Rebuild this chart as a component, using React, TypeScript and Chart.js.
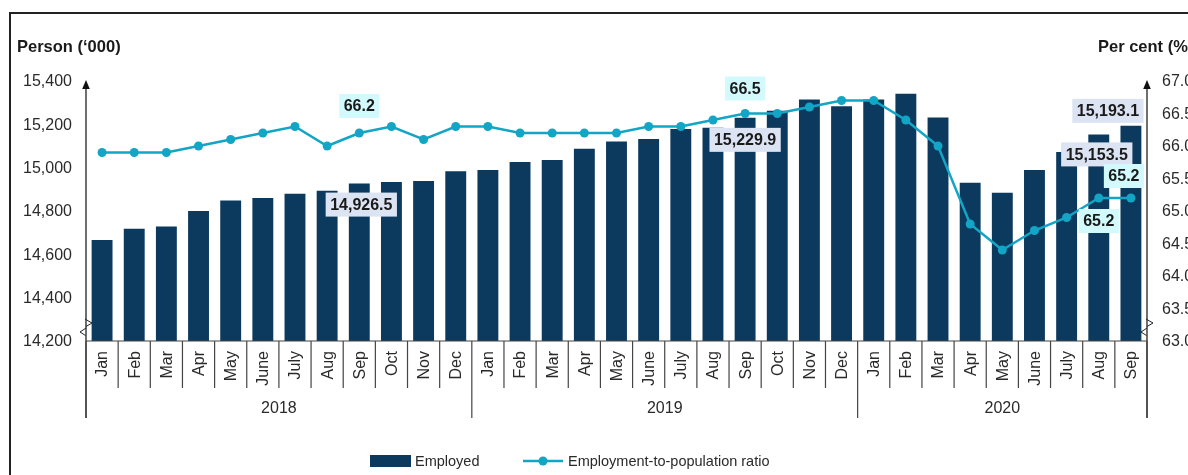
import React, { useEffect, useRef } from "react";
import { Chart, registerables } from "chart.js";

Chart.register(...registerables);

const months = [
  "Jan", "Feb", "Mar", "Apr", "May", "June", "July", "Aug", "Sep", "Oct", "Nov", "Dec",
  "Jan", "Feb", "Mar", "Apr", "May", "June", "July", "Aug", "Sep", "Oct", "Nov", "Dec",
  "Jan", "Feb", "Mar", "Apr", "May", "June", "July", "Aug", "Sep",
];
const yearLabels = ["2018", "2019", "2020"];
const yearCounts = [12, 12, 9];

const employed = [
  14666, 14718, 14729, 14800, 14849, 14860, 14880, 14894, 14926.5, 14934, 14938, 14984,
  14989, 15026, 15035, 15087, 15121, 15132, 15178, 15184, 15229.9, 15263, 15315, 15284,
  15315, 15341, 15231, 14930, 14884, 14989, 15072, 15153.5, 15193.1,
];
const ratio = [
  65.9, 65.9, 65.9, 66.0, 66.1, 66.2, 66.3, 66.0, 66.2, 66.3, 66.1, 66.3,
  66.3, 66.2, 66.2, 66.2, 66.2, 66.3, 66.3, 66.4, 66.5, 66.5, 66.6, 66.7,
  66.7, 66.4, 66.0, 64.8, 64.4, 64.7, 64.9, 65.2, 65.2,
];
const leftTicks = [14200, 14400, 14600, 14800, 15000, 15200, 15400];
const rightTicks = [63.0, 63.5, 64.0, 64.5, 65.0, 65.5, 66.0, 66.5, 67.0];

// labelled points: which series, which month index
const annotSeries = ["ratio", "employed", "ratio", "employed", "employed", "employed", "ratio", "ratio"];
const annotIndex = [8, 8, 20, 20, 32, 31, 32, 31];
// style offsets (pixels) for the label boxes
const annotDx = [0, 2, 0, 0, -23, -2, -7, 0];
const annotDy = [-27, 21, -25, 22, -15, 20, -22, 23];

const BAR_COLOR = "#0b3a5e";
const LINE_COLOR = "#12a5c5";
const TEXT = "#2a2a2a";
const FONT = "'Liberation Sans', Arial, sans-serif";

const overlay = {
  id: "overlay",
  afterDraw(chart: any) {
    const ctx = chart.ctx as CanvasRenderingContext2D;
    const area = chart.chartArea;
    const x = chart.scales.x;
    const y = chart.scales.y;
    const y1 = chart.scales.y1;
    const L = area.left;
    const R = area.right;
    const B = area.bottom;
    const T = area.top;
    const step = x.getPixelForValue(1) - x.getPixelForValue(0);
    ctx.save();

    // axes
    ctx.strokeStyle = "#222";
    ctx.lineWidth = 1.3;
    ctx.beginPath();
    ctx.moveTo(L, T + 6);
    ctx.lineTo(L, 418);
    ctx.moveTo(R, T + 6);
    ctx.lineTo(R, 418);
    ctx.stroke();
    ctx.fillStyle = "#111";
    for (const ax of [L, R]) {
      ctx.beginPath();
      ctx.moveTo(ax, T - 1);
      ctx.lineTo(ax - 3.8, T + 8);
      ctx.lineTo(ax + 3.8, T + 8);
      ctx.closePath();
      ctx.fill();
    }
    // x baseline
    ctx.strokeStyle = "#444";
    ctx.lineWidth = 1.2;
    ctx.beginPath();
    ctx.moveTo(L, B);
    ctx.lineTo(R, B);
    ctx.stroke();

    // break marks
    ctx.strokeStyle = "#222";
    ctx.lineWidth = 1;
    for (const ax of [L, R]) {
      ctx.beginPath();
      ctx.moveTo(ax - 1, 319);
      ctx.lineTo(ax + 6, 323);
      ctx.lineTo(ax, 326.5);
      ctx.moveTo(ax, 328);
      ctx.lineTo(ax - 6, 332);
      ctx.lineTo(ax - 0.5, 335.5);
      ctx.stroke();
    }

    // y tick labels
    ctx.fillStyle = TEXT;
    ctx.font = `16px ${FONT}`;
    ctx.textBaseline = "middle";
    ctx.textAlign = "right";
    for (const v of leftTicks) {
      ctx.fillText(v.toLocaleString("en-US"), 72, y.getPixelForValue(v) + 1);
    }
    ctx.textAlign = "left";
    for (const v of rightTicks) {
      ctx.fillText(v.toFixed(1), R + 15, y1.getPixelForValue(v) + 1);
    }
    // axis titles
    ctx.font = `bold 16.5px ${FONT}`;
    ctx.fillStyle = "#1a1a1a";
    ctx.fillText("Person (\u2018000)", 17, 47);
    ctx.fillText("Per cent (%)", 1098, 47);

    // month separators and labels
    ctx.strokeStyle = "#444";
    ctx.lineWidth = 1.2;
    let boundaryIdx = 0;
    const yearBounds: number[] = [0];
    for (const c of yearCounts) {
      boundaryIdx += c;
      yearBounds.push(boundaryIdx);
    }
    for (let i = 0; i <= months.length; i++) {
      const bx = x.getPixelForValue(0) - step / 2 + i * step;
      const isYear = yearBounds.includes(i);
      ctx.beginPath();
      ctx.moveTo(bx, B);
      ctx.lineTo(bx, isYear ? 418 : 388);
      ctx.stroke();
    }
    ctx.fillStyle = TEXT;
    ctx.font = `16px ${FONT}`;
    for (let i = 0; i < months.length; i++) {
      const cx = x.getPixelForValue(i);
      ctx.save();
      ctx.translate(cx + 1, B + 10);
      ctx.rotate(-Math.PI / 2);
      ctx.textAlign = "right";
      ctx.textBaseline = "middle";
      ctx.fillText(months[i], 0, 0);
      ctx.restore();
    }
    ctx.textAlign = "center";
    ctx.textBaseline = "middle";
    for (let k = 0; k < yearLabels.length; k++) {
      const a = x.getPixelForValue(yearBounds[k]);
      const b = x.getPixelForValue(yearBounds[k + 1] - 1);
      ctx.fillText(yearLabels[k], (a + b) / 2, 409);
    }

    // legend
    const ly = 461;
    ctx.fillStyle = BAR_COLOR;
    ctx.fillRect(370, ly - 6, 41, 12);
    ctx.fillStyle = TEXT;
    ctx.font = `14.5px ${FONT}`;
    ctx.textAlign = "left";
    ctx.fillText("Employed", 415, ly + 1);
    ctx.strokeStyle = LINE_COLOR;
    ctx.lineWidth = 2.5;
    ctx.beginPath();
    ctx.moveTo(523, ly);
    ctx.lineTo(563, ly);
    ctx.stroke();
    ctx.fillStyle = LINE_COLOR;
    ctx.beginPath();
    ctx.arc(543, ly, 4.5, 0, Math.PI * 2);
    ctx.fill();
    ctx.fillStyle = TEXT;
    ctx.fillText("Employment-to-population ratio", 568, ly + 1);

    // annotations
    ctx.font = `bold 16px ${FONT}`;
    for (let k = 0; k < annotIndex.length; k++) {
      const i = annotIndex[k];
      const isRatio = annotSeries[k] === "ratio";
      const val = isRatio ? ratio[i] : employed[i];
      const text = isRatio
        ? val.toFixed(1)
        : val.toLocaleString("en-US", { minimumFractionDigits: 1, maximumFractionDigits: 1 });
      const px = x.getPixelForValue(i) + annotDx[k];
      const py = (isRatio ? y1.getPixelForValue(val) : y.getPixelForValue(val)) + annotDy[k];
      const w = ctx.measureText(text).width + 9;
      const h = 24;
      ctx.fillStyle = isRatio ? "#d2fafd" : "#dce3f2";
      ctx.fillRect(px - w / 2, py - h / 2, w, h);
      ctx.fillStyle = "#1a1a1a";
      ctx.textAlign = "center";
      ctx.textBaseline = "middle";
      ctx.fillText(text, px, py + 1);
    }
    ctx.restore();
  },
};

export default function App() {
  const ref = useRef<HTMLCanvasElement | null>(null);
  useEffect(() => {
    if (!ref.current) return;
    const chart = new Chart(ref.current, {
      type: "bar",
      data: {
        labels: months,
        datasets: [
          {
            type: "line",
            label: "Employment-to-population ratio",
            data: ratio,
            yAxisID: "y1",
            borderColor: LINE_COLOR,
            backgroundColor: LINE_COLOR,
            borderWidth: 2.5,
            pointRadius: 4.5,
            pointBackgroundColor: LINE_COLOR,
            pointBorderWidth: 0,
            tension: 0,
            order: 0,
          } as any,
          {
            type: "bar",
            label: "Employed",
            data: employed,
            yAxisID: "y",
            backgroundColor: BAR_COLOR,
            borderWidth: 0,
            barPercentage: 0.65,
            categoryPercentage: 1,
            order: 1,
          },
        ],
      },
      options: {
        responsive: false,
        animation: false,
        devicePixelRatio: 1,
        layout: { padding: { left: 86, right: 1240 - 1147, top: 81, bottom: 475 - 341 } },
        plugins: { legend: { display: false }, tooltip: { enabled: false } },
        scales: {
          x: { display: false, offset: true },
          y: { display: false, min: 14200, max: 15400 },
          y1: { display: false, min: 63, max: 67, position: "right" },
        },
      },
      plugins: [overlay],
    });
    return () => chart.destroy();
  }, []);
  return (
    <div
      style={{
        position: "fixed",
        left: 0,
        top: 0,
        width: 1188,
        height: 475,
        overflow: "hidden",
        background: "#fff",
      }}
    >
      <div
        style={{
          position: "absolute",
          left: 9,
          top: 12,
          width: 1400,
          height: 700,
          border: "2.5px solid #222",
        }}
      />
      <canvas
        ref={ref}
        width={1240}
        height={475}
        style={{ position: "absolute", left: 0, top: 0, width: 1240, height: 475 }}
      />
    </div>
  );
}
